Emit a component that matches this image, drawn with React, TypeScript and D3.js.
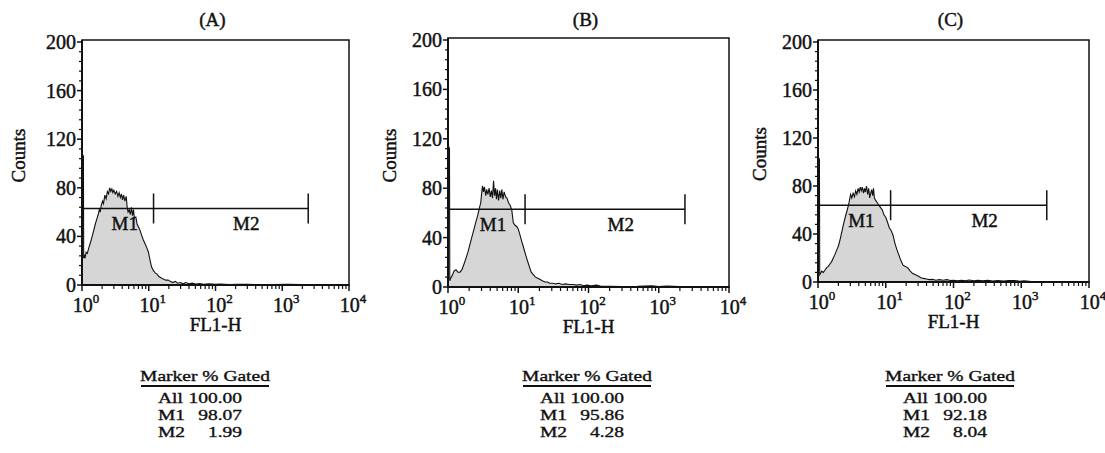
import React from "react";
import * as d3 from "d3";

// ---- data ----
const panelTitles = ["(A)", "(B)", "(C)"];
const countTicks = [0, 40, 80, 120, 160, 200];
const decadeExponents = [0, 1, 2, 3, 4];

// FL1-H value, counts
const histA: [number, number][] = [
  [1.0, 0], [1.0, 108], [1.05, 106], [1.06, 22], [1.08, 25], [1.11, 22], [1.15, 27], [1.2, 26],
  [1.27, 31], [1.34, 35], [1.42, 40], [1.5, 45], [1.58, 50], [1.66, 54], [1.75, 58], [1.82, 62],
  [1.87, 60], [1.95, 66], [2.03, 69], [2.1, 67], [2.2, 74], [2.3, 71], [2.4, 77], [2.5, 75],
  [2.6, 80], [2.7, 77], [2.8, 79], [2.9, 76], [3.0, 78], [3.15, 75], [3.3, 77], [3.45, 73],
  [3.6, 76], [3.75, 72], [3.9, 75], [4.05, 70], [4.2, 74], [4.4, 69], [4.6, 73], [4.75, 64],
  [4.9, 60], [5.1, 62], [5.3, 58], [5.5, 64], [5.7, 57], [5.9, 62], [6.1, 55], [6.4, 56],
  [6.7, 50], [7.0, 48], [7.4, 45], [7.8, 41], [8.3, 37], [8.8, 34], [9.3, 31], [9.9, 27],
  [10.4, 21], [11.0, 15], [11.7, 12], [12.5, 10], [13.3, 9], [14.2, 7], [15.2, 6], [16.5, 5],
  [18, 4], [19.5, 4], [21, 3], [23, 2], [25, 3], [27, 1.5], [30, 2], [33, 1], [36, 2], [40, 1],
  [45, 1.5], [50, 0.8], [58, 1.2], [66, 0.6], [80, 1], [100, 0.5], [120, 0.8], [160, 0.4],
  [220, 0.5], [300, 0.6], [450, 0.3], [700, 0.4], [1200, 0.5], [2000, 0.3], [4000, 0.3],
  [10000, 0.3], [10000, 0],
];

const histB: [number, number][] = [
  [1.0, 0], [1.0, 115], [1.05, 112], [1.06, 5], [1.09, 7], [1.14, 9], [1.22, 13], [1.3, 14],
  [1.38, 12], [1.48, 12], [1.58, 14], [1.7, 19], [1.82, 24], [1.94, 29], [2.06, 35], [2.2, 41],
  [2.35, 47], [2.5, 53], [2.65, 58], [2.8, 64], [2.92, 68], [3.0, 75], [3.1, 82], [3.2, 77],
  [3.3, 81], [3.45, 74], [3.55, 79], [3.7, 75], [3.85, 80], [4.0, 73], [4.15, 78], [4.3, 72],
  [4.45, 86], [4.6, 74], [4.75, 80], [4.9, 71], [5.05, 79], [5.25, 70], [5.45, 78], [5.65, 72],
  [5.85, 79], [6.05, 71], [6.3, 77], [6.6, 73], [6.9, 72], [7.3, 68], [7.7, 66], [8.1, 62],
  [8.5, 52], [9.0, 50], [9.5, 49], [10.0, 47], [10.6, 42], [11.2, 37], [11.9, 32], [12.6, 27],
  [13.4, 22], [14.3, 17], [15.3, 12], [16.4, 10], [17.6, 8], [19, 7], [20.5, 6], [22, 5],
  [24, 4], [26, 4], [28, 3], [31, 3], [34, 2.5], [38, 3], [42, 2], [47, 2.5], [53, 2], [60, 2],
  [68, 1.5], [76, 2], [85, 1], [95, 1.5], [110, 1], [130, 1.5], [150, 0.5], [200, 0.5],
  [300, 0.4], [500, 0.5], [800, 1], [1000, 0.4], [1300, 0.8], [2000, 0.3], [5000, 0.3],
  [10000, 0.3], [10000, 0],
];

const histC: [number, number][] = [
  [1.0, 0], [1.0, 105], [1.05, 102], [1.06, 6], [1.09, 7], [1.13, 9], [1.2, 8], [1.27, 10],
  [1.34, 12], [1.42, 13], [1.5, 15], [1.59, 17], [1.68, 20], [1.78, 23], [1.9, 27], [2.0, 30],
  [2.11, 35], [2.25, 42], [2.4, 49], [2.55, 55], [2.7, 60], [2.85, 65], [2.95, 70], [3.03, 73],
  [3.15, 70], [3.3, 74], [3.45, 71], [3.6, 76], [3.75, 73], [3.9, 78], [4.05, 75], [4.2, 79],
  [4.35, 76], [4.5, 79], [4.7, 74], [4.85, 78], [5.0, 75], [5.2, 80], [5.4, 73], [5.6, 78],
  [5.8, 70], [6.0, 74], [6.2, 77], [6.4, 72], [6.6, 78], [6.8, 70], [7.1, 68], [7.5, 66],
  [7.9, 64], [8.4, 62], [8.9, 60], [9.4, 56], [10.0, 54], [10.6, 50], [11.3, 45], [12.0, 43],
  [12.8, 39], [13.7, 32], [14.6, 27], [15.5, 23], [16.2, 20], [17, 17], [18, 14], [19.5, 13],
  [21, 12], [23, 9], [25, 7], [27.5, 6], [30, 5], [33, 3.5], [36, 3], [40, 2.5], [44, 2],
  [49, 2.2], [55, 1.5], [62, 2], [70, 1.5], [80, 2], [90, 1.2], [100, 1.5], [115, 1],
  [130, 1.5], [150, 1], [170, 1.6], [200, 1], [230, 1.5], [270, 1], [320, 1.4], [380, 0.8],
  [450, 1.3], [550, 0.8], [650, 1.2], [800, 1.3], [950, 0.6], [1100, 1], [1400, 0.3],
  [2000, 0.3], [5000, 0.3], [10000, 0.3], [10000, 0],
];

const histograms = [histA, histB, histC];

// marker gates: count level of the bar, end of M1, end of M2
const markerLevels = [63, 63, 64];
const m1Ends = [11.8, 12.5, 11.8];
const m2Ends = [2450, 2360, 2380];

const markerNames = ["All", "M1", "M2"];
const gatedA = ["100.00", "98.07", "1.99"];
const gatedB = ["100.00", "95.86", "4.28"];
const gatedC = ["100.00", "92.18", "8.04"];
const gatedValues = [gatedA, gatedB, gatedC];

// ---- layout ----
const frames = [
  { x0: 82, x1: 349, yTop: 42, yBottom: 285, tableX: 205, countsX: 19 },
  { x0: 448, x1: 729, yTop: 40, yBottom: 287, tableX: 587, countsX: 390 },
  { x0: 818, x1: 1089, yTop: 42, yBottom: 282, tableX: 950, countsX: 760 },
];

const font = "'Liberation Serif', 'Times New Roman', serif";
const ink = "#111";
// the scanned lettering is heavier than a plain regular face
const heavy = { stroke: ink, strokeWidth: 0.45 };
// table lettering in the scan is stretched sideways
const tableStretch = 1.3;

function Panel({ i }: { i: number }) {
  const f = frames[i];
  const x = d3.scaleLog().domain([1, 10000]).range([f.x0, f.x1]);
  const y = d3.scaleLinear().domain([0, 200]).range([f.yBottom, f.yTop]);
  const line = d3
    .line<[number, number]>()
    .x((d) => x(d[0]))
    .y((d) => y(d[1]));

  const minorX: number[] = [];
  decadeExponents.slice(0, -1).forEach((e) => {
    for (let k = 2; k <= 9; k++) minorX.push(k * Math.pow(10, e));
  });
  const minorY = d3.range(0, 201, 8).filter((v) => v % 40 !== 0);

  const level = y(markerLevels[i]);
  const xm1 = x(m1Ends[i]);
  const xm2 = x(m2Ends[i]);
  const cx = (f.x0 + f.x1) / 2;
  const cy = (f.yTop + f.yBottom) / 2;

  return (
    <g fontFamily={font} fill={ink}>
      <text x={cx - 3} y={26} textAnchor="middle" fontSize={19} {...heavy}>
        {panelTitles[i]}
      </text>

      {/* histogram */}
      <path d={line(histograms[i]) || ""} fill="#d6d6d6" stroke={ink} strokeWidth={1.1} />

      {/* frame */}
      <rect
        x={f.x0}
        y={f.yTop - 2}
        width={f.x1 - f.x0}
        height={f.yBottom - f.yTop + 2}
        fill="none"
        stroke={ink}
        strokeWidth={1.5}
      />
      <line x1={f.x0} x2={f.x0} y1={f.yTop - 2} y2={f.yBottom} stroke={ink} strokeWidth={2} />
      <line x1={f.x0} x2={f.x1} y1={f.yBottom} y2={f.yBottom} stroke={ink} strokeWidth={2} />

      {/* y axis */}
      {minorY.map((v) => (
        <line key={"my" + v} x1={f.x0 - 3} x2={f.x0} y1={y(v)} y2={y(v)} stroke={ink} strokeWidth={1.2} />
      ))}
      {countTicks.map((v) => (
        <g key={"y" + v}>
          <line x1={f.x0 - 5} x2={f.x0} y1={y(v)} y2={y(v)} stroke={ink} strokeWidth={1.5} />
          <text x={f.x0 - 6} y={y(v)} dy="0.35em" textAnchor="end" fontSize={20} {...heavy}>
            {v}
          </text>
        </g>
      ))}
      <text
        transform={`translate(${f.countsX + 6},${cy - 8}) rotate(-90)`}
        textAnchor="middle"
        fontSize={19}
        {...heavy}
      >
        Counts
      </text>

      {/* x axis */}
      {minorX.map((v) => (
        <line key={"mx" + v} x1={x(v)} x2={x(v)} y1={f.yBottom} y2={f.yBottom + 4} stroke={ink} strokeWidth={1.2} />
      ))}
      {decadeExponents.map((e) => (
        <g key={"x" + e}>
          <line
            x1={x(Math.pow(10, e))}
            x2={x(Math.pow(10, e))}
            y1={f.yBottom}
            y2={f.yBottom + 6}
            stroke={ink}
            strokeWidth={1.5}
          />
          <text x={x(Math.pow(10, e)) + 4} y={f.yBottom + 27} textAnchor="middle" fontSize={20} {...heavy}>
            10
            <tspan fontSize={13} dy={-9}>
              {e}
            </tspan>
          </text>
        </g>
      ))}
      <text x={cx} y={f.yBottom + 46} textAnchor="middle" fontSize={19} {...heavy}>
        FL1-H
      </text>

      {/* markers */}
      <line x1={f.x0} x2={xm2} y1={level} y2={level} stroke={ink} strokeWidth={1.5} />
      <line x1={xm1} x2={xm1} y1={level - 15} y2={level + 15} stroke={ink} strokeWidth={1.5} />
      <line x1={xm2} x2={xm2} y1={level - 15} y2={level + 15} stroke={ink} strokeWidth={1.5} />
      <text x={x(Math.pow(10, 0.64))} y={level + 22} textAnchor="middle" fontSize={19} {...heavy}>
        M1
      </text>
      <text x={x(Math.pow(10, 2.46))} y={level + 22} textAnchor="middle" fontSize={19} {...heavy}>
        M2
      </text>

      {/* gated table */}
      <line x1={f.tableX - 64} x2={f.tableX + 64} y1={386} y2={386} stroke={ink} strokeWidth={2} />
      <g transform={`translate(${f.tableX},0) scale(${tableStretch},1)`} fontSize={15} {...heavy} strokeWidth={0.35}>
        <text x={0} y={381} textAnchor="middle">
          Marker % Gated
        </text>
        {markerNames.map((m, r) => (
          <g key={m}>
            <text x={-47 / tableStretch} y={403 + r * 17}>
              {m}
            </text>
            <text x={37 / tableStretch} y={403 + r * 17} textAnchor="end">
              {gatedValues[i][r]}
            </text>
          </g>
        ))}
      </g>
    </g>
  );
}

export default function App() {
  return (
    <svg
      width={1105}
      height={453}
      style={{ position: "absolute", left: 0, top: 0, background: "#fff" }}
    >
      {panelTitles.map((t, i) => (
        <Panel key={t} i={i} />
      ))}
    </svg>
  );
}
